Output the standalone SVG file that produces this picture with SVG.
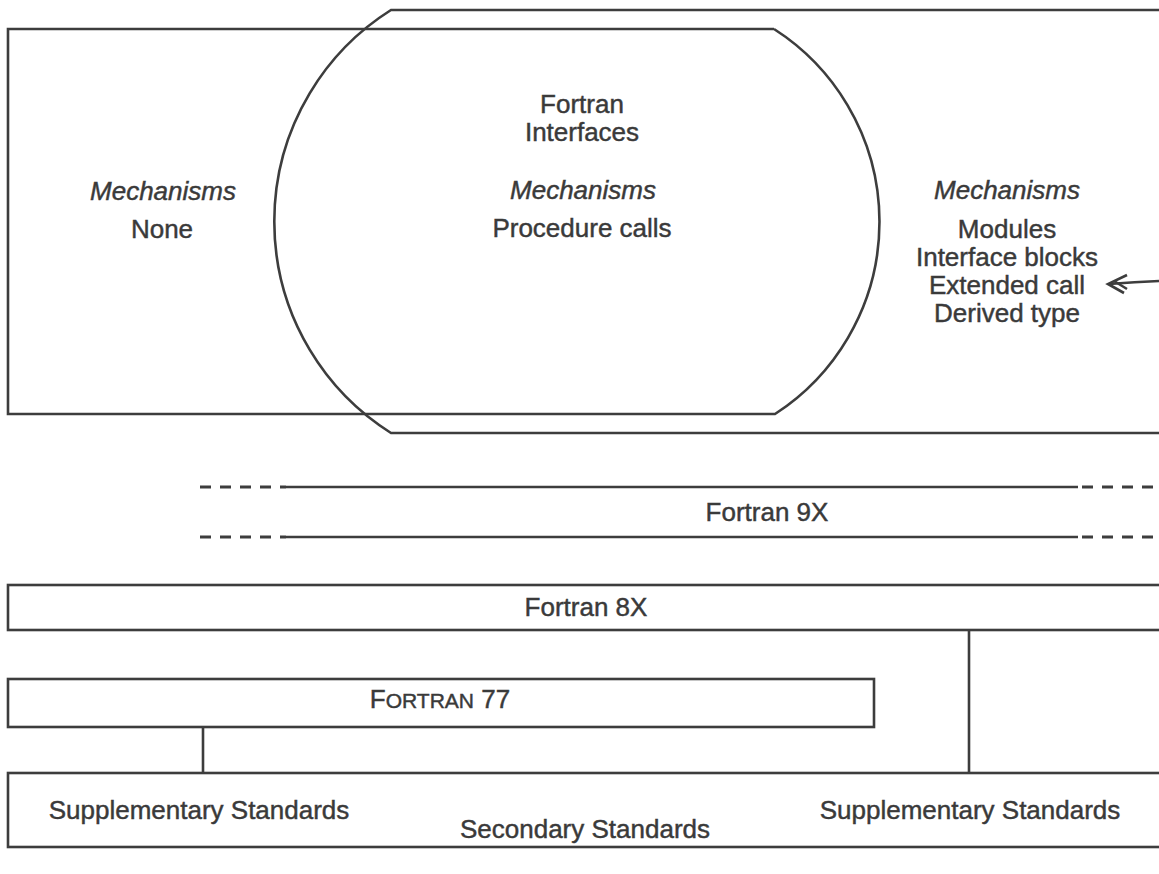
<svg xmlns="http://www.w3.org/2000/svg" width="1159" height="874" viewBox="0 0 1159 874">
<style>
.s{fill:none;stroke:#3d3d3d;stroke-width:2.6}
.t{font-family:"Liberation Sans",Arial,Helvetica,sans-serif;font-size:26px;fill:#3a3a3a;stroke:#3a3a3a;stroke-width:0.45;text-anchor:middle}
.i{font-style:italic}
.d{fill:none;stroke:#3d3d3d;stroke-width:3;stroke-dasharray:11 9}
</style>
<rect width="1159" height="874" fill="#ffffff"/>
<g id="existing">
<path class="s" d="M774,29 L8,29 L8,414 L775,414 A229,229 0 0 0 774,29"/>
<text class="t i" x="163" y="200">Mechanisms</text>
<text class="t" x="162" y="238">None</text>
</g>
<g id="fortran-interfaces">
<text class="t" x="582" y="113">Fortran</text>
<text class="t" x="582" y="141">Interfaces</text>
<text class="t i" x="583" y="199">Mechanisms</text>
<text class="t" x="582" y="237">Procedure calls</text>
</g>
<g id="new">
<path class="s" d="M1170,10 L391,10 A250,250 0 0 0 391,433 L1170,433"/>
<text class="t i" x="1007" y="199">Mechanisms</text>
<text class="t" x="1007" y="238">Modules</text>
<text class="t" x="1007" y="266">Interface blocks</text>
<text class="t" x="1007" y="294">Extended call</text>
<text class="t" x="1007" y="322">Derived type</text>
</g>
<g id="fortran9x">
<path class="d" d="M200,487 H286"/>
<path class="s" d="M286,487 H1078" stroke-width="3"/>
<path class="d" d="M1082,487 H1159"/>
<path class="d" d="M200,537 H286"/>
<path class="s" d="M286,537 H1078" stroke-width="3"/>
<path class="d" d="M1082,537 H1159"/>
<text class="t" x="767" y="521">Fortran 9X</text>
</g>
<g id="fortran8x">
<rect class="s" x="8" y="585" width="1170" height="45"/>
<text class="t" x="586" y="616">Fortran 8X</text>
</g>
<g id="fortran77">
<rect class="s" x="8" y="679" width="866" height="48"/>
<text class="t" x="440" y="708"><tspan>F</tspan><tspan font-size="21">ORTRAN</tspan><tspan> 77</tspan></text>
</g>
<g id="standards">
<rect class="s" x="8" y="773" width="1170" height="74"/>
<text class="t" x="199" y="819">Supplementary Standards</text>
<text class="t" x="585" y="838">Secondary Standards</text>
<text class="t" x="970" y="819">Supplementary Standards</text>
</g>
<g id="connectors">
<path class="s" d="M969,630 V773"/>
<path class="s" d="M203,727 V773"/>
<path class="s" stroke-width="2" d="M1159,281 Q1135,282 1109,284"/>
<path class="s" stroke-width="2" d="M1127,275 L1108,284 L1124,293 M1114,281 L1127,289"/>
</g>
</svg>
